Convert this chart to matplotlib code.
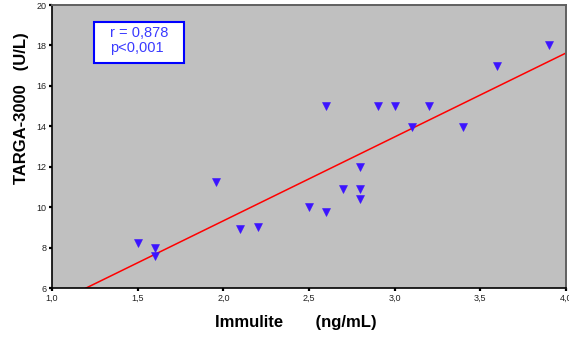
import numpy as np
import matplotlib
matplotlib.use("Agg")
import matplotlib.pyplot as plt
from matplotlib.patches import Rectangle

plt.rcParams['font.family'] = ['Liberation Sans', 'DejaVu Sans']

# Data
immulite = [1.5, 1.6, 1.6, 1.96, 2.1, 2.2, 2.5, 2.6, 2.6, 2.7,
            2.8, 2.8, 2.8, 2.9, 3.0, 3.1, 3.2, 3.4, 3.6, 3.9]
targa = [8.25, 8.0, 7.6, 11.25, 8.9, 9.0, 10.0, 9.75, 15.0, 10.9,
         12.0, 10.9, 10.4, 15.0, 15.0, 13.95, 15.0, 13.95, 17.0, 18.0]

x_ticks = [1.0, 1.5, 2.0, 2.5, 3.0, 3.5, 4.0]
x_tick_labels = ["1,0", "1,5", "2,0", "2,5", "3,0", "3,5", "4,0"]
y_ticks = [6, 8, 10, 12, 14, 16, 18, 20]
y_tick_labels = ["6", "8", "10", "12", "14", "16", "18", "20"]

stats_text = "r = 0,878\np<0,001"
x_label_text = "Immulite       (ng/mL)"
y_label_text = "TARGA-3000   (U/L)"

fig = plt.figure(figsize=(5.69, 3.37), dpi=100)
ax = fig.add_axes([52/569, 49/337, 514/569, 283/337])
ax.set_facecolor('#c0c0c0')

# regression line (least squares)
slope, intercept = np.polyfit(immulite, targa, 1)
xl = np.array([1.0, 4.0])
ax.plot(xl, slope*xl + intercept, color='#ff0000', lw=1.1, zorder=2)

ax.plot(immulite, targa, linestyle='none', marker='v', markersize=5.3,
        color='#3c14ff', markeredgecolor='#3c14ff', markeredgewidth=0.4, zorder=3)

ax.set_xlim(1.0, 4.0)
ax.set_ylim(6, 20)
ax.set_xticks(x_ticks)
ax.set_xticklabels(x_tick_labels)
ax.set_yticks(y_ticks)
ax.set_yticklabels(y_tick_labels)
ax.tick_params(axis='both', direction='out', length=2, width=1.6,
               labelsize=6.5, colors='black', pad=2)
for lbl in ax.get_xticklabels() + ax.get_yticklabels():
    lbl.set_color('#222222')

for s in ['left', 'bottom']:
    ax.spines[s].set_color('black')
    ax.spines[s].set_linewidth(1.2)
for s in ['top', 'right']:
    ax.spines[s].set_color('#606060')
    ax.spines[s].set_linewidth(1.4)

# stats box
ax.add_patch(Rectangle((0.0817, 0.795), 0.1751, 0.145, transform=ax.transAxes,
                       facecolor='white', edgecolor='#0000ff', linewidth=1.5,
                       zorder=4))
ax.text(0.113, 0.8746, stats_text, transform=ax.transAxes, ha='left', va='center',
        fontsize=10.5, color='#3a3aff', linespacing=1.12, zorder=5)

fig.text(296/569, 1 - 322/337, x_label_text, ha='center', va='center',
         fontsize=12, fontweight='bold')
fig.text(22/569, 1 - 108/337, y_label_text, ha='center', va='center',
         fontsize=12, fontweight='bold', rotation=90)

fig.savefig('out.png', dpi=100)
